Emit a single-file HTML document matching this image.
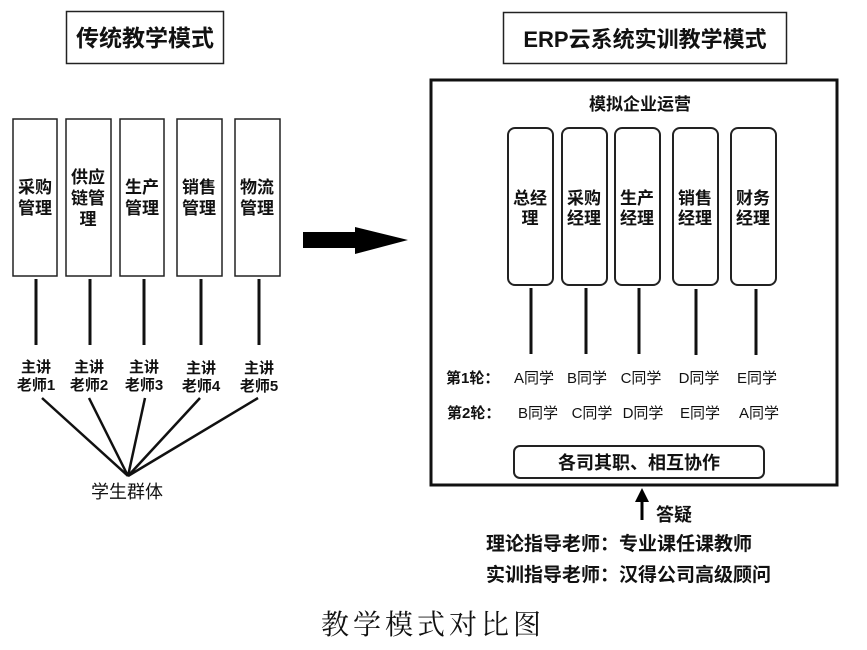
<!DOCTYPE html>
<html><head><meta charset="utf-8"><style>
html,body{margin:0;padding:0;background:#fff;}
svg{display:block;}
text{font-family:"Liberation Sans","Noto Sans CJK SC",sans-serif;fill:#111;}
.b{font-weight:bold;}
</style></head><body>
<svg width="867" height="650" viewBox="0 0 867 650" xmlns="http://www.w3.org/2000/svg">
<rect x="0" y="0" width="867" height="650" fill="#fff"/>
<g fill="none" stroke="#222" stroke-width="1.5">
<rect x="66.5" y="11.5" width="157" height="52"/>
<rect x="503.5" y="12.5" width="283" height="51"/>
<rect x="13" y="119" width="44" height="157"/>
<rect x="66" y="119" width="45" height="157"/>
<rect x="120" y="119" width="44" height="157"/>
<rect x="177" y="119" width="45" height="157"/>
<rect x="235" y="119" width="45" height="157"/>
</g>
<g stroke="#111" stroke-width="3">
<line x1="36" y1="279" x2="36" y2="345"/>
<line x1="90" y1="279" x2="90" y2="345"/>
<line x1="144" y1="279" x2="144" y2="345"/>
<line x1="201" y1="279" x2="201" y2="345"/>
<line x1="259" y1="279" x2="259" y2="345"/>
</g>
<g stroke="#111" stroke-width="2.5">
<line x1="42" y1="398" x2="128" y2="476"/>
<line x1="89" y1="398" x2="128" y2="476"/>
<line x1="145" y1="398" x2="128" y2="476"/>
<line x1="200" y1="398" x2="128" y2="476"/>
<line x1="258" y1="398" x2="128" y2="476"/>
</g>
<text x="145" y="46" font-size="23" text-anchor="middle" class="b">传统教学模式</text>
<text x="645" y="47" font-size="22" text-anchor="middle" class="b">ERP云系统实训教学模式</text>
<g font-size="17" text-anchor="middle" class="b">
<text x="35" y="193">采购</text><text x="35" y="214">管理</text>
<text x="88" y="183">供应</text><text x="88" y="204">链管</text><text x="88" y="225">理</text>
<text x="142" y="193">生产</text><text x="142" y="214">管理</text>
<text x="199" y="193">销售</text><text x="199" y="214">管理</text>
<text x="257" y="193">物流</text><text x="257" y="214">管理</text>
</g>
<g font-size="15" text-anchor="middle" class="b">
<text x="36" y="372">主讲</text><text x="36" y="390">老师1</text>
<text x="89" y="372">主讲</text><text x="89" y="390">老师2</text>
<text x="144" y="372">主讲</text><text x="144" y="390">老师3</text>
<text x="201" y="373">主讲</text><text x="201" y="391">老师4</text>
<text x="259" y="373">主讲</text><text x="259" y="391">老师5</text>
</g>
<text x="127" y="498" font-size="18" text-anchor="middle">学生群体</text>
<polygon points="303,232 355,232 355,227 408,240 355,254 355,248 303,248" fill="#000"/>
<rect x="431" y="80" width="406" height="405" fill="none" stroke="#111" stroke-width="3"/>
<text x="640" y="110" font-size="17" text-anchor="middle" class="b">模拟企业运营</text>
<g fill="none" stroke="#222" stroke-width="2">
<rect x="508" y="128" width="45" height="157" rx="7"/>
<rect x="562" y="128" width="45" height="157" rx="7"/>
<rect x="615" y="128" width="45" height="157" rx="7"/>
<rect x="673" y="128" width="45" height="157" rx="7"/>
<rect x="731" y="128" width="45" height="157" rx="7"/>
<rect x="514" y="446" width="250" height="32" rx="6"/>
</g>
<g font-size="17" text-anchor="middle" class="b">
<text x="530" y="204">总经</text><text x="530" y="224">理</text>
<text x="584" y="204">采购</text><text x="584" y="224">经理</text>
<text x="637" y="204">生产</text><text x="637" y="224">经理</text>
<text x="695" y="204">销售</text><text x="695" y="224">经理</text>
<text x="753" y="204">财务</text><text x="753" y="224">经理</text>
</g>
<g stroke="#111" stroke-width="3">
<line x1="531" y1="288" x2="531" y2="354"/>
<line x1="586" y1="288" x2="586" y2="354"/>
<line x1="639" y1="288" x2="639" y2="354"/>
<line x1="696" y1="289" x2="696" y2="355"/>
<line x1="756" y1="289" x2="756" y2="355"/>
</g>
<g font-size="15" class="b">
<text x="446" y="383">第1轮：</text>
<text x="447" y="418">第2轮：</text>
</g>
<g font-size="15" text-anchor="middle">
<text x="534" y="383">A同学</text><text x="587" y="383">B同学</text><text x="641" y="383">C同学</text><text x="699" y="383">D同学</text><text x="757" y="383">E同学</text>
<text x="538" y="418">B同学</text><text x="592" y="418">C同学</text><text x="643" y="418">D同学</text><text x="700" y="418">E同学</text><text x="759" y="418">A同学</text>
</g>
<text x="639" y="469" font-size="18" text-anchor="middle" class="b">各司其职、相互协作</text>
<line x1="642" y1="520" x2="642" y2="500" stroke="#000" stroke-width="3"/>
<polygon points="642,488 635,502 649,502" fill="#000"/>
<text x="656" y="521" font-size="18" class="b">答疑</text>
<text x="486" y="550" font-size="19" class="b">理论指导老师：专业课任课教师</text>
<text x="486" y="581" font-size="19" class="b">实训指导老师：汉得公司高级顾问</text>
<text x="433" y="634" font-size="28" text-anchor="middle" letter-spacing="4" style="font-family:'Liberation Serif','Noto Serif CJK SC',serif;">教学模式对比图</text>
</svg>
</body></html>
